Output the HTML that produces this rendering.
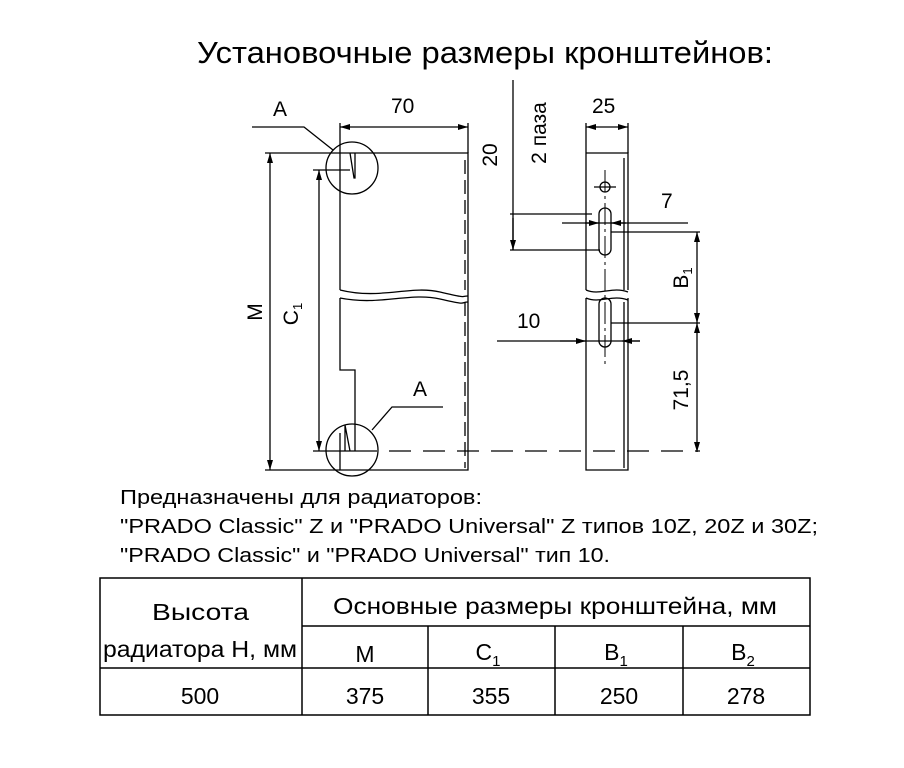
<!DOCTYPE html>
<html><head><meta charset="utf-8"><style>
body{margin:0;background:#fff;}
svg{display:block;font-family:"Liberation Sans",sans-serif;}
</style></head><body>
<svg width="904" height="768" viewBox="0 0 904 768" xmlns="http://www.w3.org/2000/svg">
<defs>
<marker id="a" viewBox="0 0 10 6" refX="10" refY="3" markerWidth="10" markerHeight="6" orient="auto-start-reverse" markerUnits="userSpaceOnUse"><path d="M0,0L10,3L0,6z" fill="#000"/></marker>
</defs>
<text x="197" y="63" font-size="31" textLength="576" lengthAdjust="spacingAndGlyphs">Установочные размеры кронштейнов:</text>
<g stroke="#000" stroke-width="1.3" fill="none">
<path d="M340,153H468V470H340V433"/>
<path d="M340,153V290"/>
<path d="M340,298V370H355V451"/>
<path d="M340,290C380,300 410,285 440,292S460,296 468,296"/>
<path d="M340,298C380,306 410,292 440,299S460,302 468,302"/>
<path d="M465,160V290M465,302V468" stroke-dasharray="14,6"/>
<path d="M340,123V153M468,123V153"/>
<line x1="340" y1="127" x2="468" y2="127" marker-start="url(#a)" marker-end="url(#a)"/>
<path d="M265,153H340M265,470H340"/>
<line x1="270" y1="153" x2="270" y2="470" marker-start="url(#a)" marker-end="url(#a)"/>
<path d="M313,170H350M313,451H355"/>
<line x1="319" y1="170" x2="319" y2="451" marker-start="url(#a)" marker-end="url(#a)"/>
<path d="M355,451H700" stroke-dasharray="22,12"/>
<circle cx="352" cy="168" r="26"/>
<circle cx="352" cy="450" r="26"/>
<path d="M350,153L354,178H355V153"/>
<path d="M345,425L350,451M345,425V451"/>
<path d="M252,127H304L333,150"/>
<path d="M443,407H392L372,430"/>
<path d="M586,153H628V290M586,153V290M586,298V470H628V298"/>
<path d="M624,158V290M624,302V468"/>
<path d="M586,290C600,296 612,286 628,292M586,298C600,304 612,294 628,300"/>
<path d="M586,123V153M628,123V153"/>
<line x1="586" y1="127" x2="628" y2="127" marker-start="url(#a)" marker-end="url(#a)"/>
<circle cx="605" cy="187" r="5"/>
<path d="M594,187H616"/>
<path d="M605,170V365" stroke-dasharray="22,4,3,4" stroke-width="1"/>
<rect x="599" y="208" width="12" height="47" rx="6"/>
<rect x="599" y="298" width="12" height="49" rx="6"/>
<path d="M513,80V250"/>
<path d="M510,214H592M510,250H600"/>
<line x1="513" y1="218" x2="513" y2="250" marker-end="url(#a)"/>
<path d="M562,223H688"/>
<line x1="585" y1="223" x2="599" y2="223" marker-end="url(#a)"/>
<line x1="626" y1="223" x2="611" y2="223" marker-end="url(#a)"/>
<path d="M611,232H700M611,323H700"/>
<line x1="697" y1="232" x2="697" y2="323" marker-start="url(#a)" marker-end="url(#a)"/>
<line x1="697" y1="323" x2="697" y2="452" marker-start="url(#a)" marker-end="url(#a)"/>
<path d="M497,341H640"/>
<line x1="560" y1="341" x2="586" y2="341" marker-end="url(#a)"/>
<line x1="640" y1="341" x2="622" y2="341" marker-end="url(#a)"/>
</g>
<g font-size="21">
<text x="280" y="116" text-anchor="middle">A</text>
<text x="420" y="396" text-anchor="middle">A</text>
<text x="391" y="113">70</text>
<text x="592" y="113">25</text>
<text x="661" y="208">7</text>
<text x="517" y="328">10</text>
<text transform="translate(262,312) rotate(-90)" text-anchor="middle">M</text>
<text transform="translate(298,314) rotate(-90)" text-anchor="middle">C<tspan font-size="13" dy="4">1</tspan></text>
<text transform="translate(497,155) rotate(-90)" text-anchor="middle">20</text>
<text transform="translate(546,133) rotate(-90)" text-anchor="middle">2 паза</text>
<text transform="translate(688,278) rotate(-90)" text-anchor="middle">B<tspan font-size="13" dy="4">1</tspan></text>
<text transform="translate(688,390) rotate(-90)" text-anchor="middle">71,5</text>
</g>
<g font-size="20">
<text x="120" y="504" textLength="362" lengthAdjust="spacingAndGlyphs">Предназначены для радиаторов:</text>
<text x="120" y="533" textLength="698" lengthAdjust="spacingAndGlyphs">"PRADO Classic" Z и "PRADO Universal" Z типов 10Z, 20Z и 30Z;</text>
<text x="120" y="562" textLength="490" lengthAdjust="spacingAndGlyphs">"PRADO Classic" и "PRADO Universal" тип 10.</text>
</g>
<g stroke="#000" stroke-width="1.5" fill="none">
<rect x="100" y="578" width="710" height="137"/>
<path d="M302,578V715M302,626H810M428,626V715M555,626V715M683,626V715M100,668H810"/>
</g>
<g font-size="23">
<text x="152" y="620" textLength="97" lengthAdjust="spacingAndGlyphs">Высота</text>
<text x="103" y="657" textLength="194" lengthAdjust="spacingAndGlyphs">радиатора Н, мм</text>
<text x="333" y="614" textLength="444" lengthAdjust="spacingAndGlyphs">Основные размеры кронштейна, мм</text>
</g>
<g font-size="23" text-anchor="middle">
<text x="365" y="662">M</text>
<text x="488" y="660">C<tspan font-size="15" dy="6">1</tspan></text>
<text x="616" y="660">B<tspan font-size="15" dy="6">1</tspan></text>
<text x="743" y="660">B<tspan font-size="15" dy="6">2</tspan></text>
<text x="200" y="704">500</text>
<text x="365" y="704">375</text>
<text x="491" y="704">355</text>
<text x="619" y="704">250</text>
<text x="746" y="704">278</text>
</g>
</svg>
</body></html>
